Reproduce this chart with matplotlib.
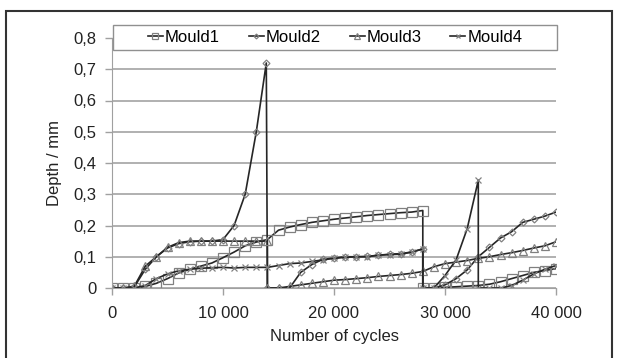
import matplotlib
matplotlib.use("Agg")
import matplotlib.pyplot as plt
from matplotlib.patches import Rectangle
from matplotlib.ticker import FuncFormatter

# Mould1 (squares)
m1_x = [0, 1000, 2000, 3000, 4000, 5000, 6000, 7000, 8000, 9000, 10000, 11000, 12000, 13000, 14000,
        15000, 16000, 17000, 18000, 19000, 20000, 21000, 22000, 23000, 24000, 25000, 26000, 27000, 28000,
        28000, 29000, 30000, 31000, 32000, 33000, 34000, 35000, 36000, 37000, 38000, 39000, 40000]
m1_y = [0, 0, 0, 0.005, 0.015, 0.03, 0.048, 0.06, 0.07, 0.08, 0.097, 0.115, 0.135, 0.147, 0.155,
        0.185, 0.195, 0.203, 0.21, 0.215, 0.22, 0.224, 0.228, 0.232, 0.235, 0.238, 0.241, 0.243, 0.248,
        0, 0, 0.002, 0.004, 0.006, 0.008, 0.012, 0.02, 0.03, 0.04, 0.05, 0.056, 0.062]

# Mould2 (diamonds)
m2_x = [0, 1000, 2000, 3000, 4000, 5000, 6000, 7000, 8000, 9000, 10000, 11000, 12000, 13000, 13900,
        14000, 15000, 16000, 17000, 18000, 19000, 20000, 21000, 22000, 23000, 24000, 25000, 26000, 27000, 28000,
        28000, 29000, 30000, 31000, 32000, 33000, 34000, 35000, 36000, 37000, 38000, 39000, 40000]
m2_y = [0, 0, 0.003, 0.06, 0.1, 0.128, 0.142, 0.148, 0.15, 0.15, 0.155, 0.2, 0.3, 0.5, 0.72,
        0, 0, 0, 0.05, 0.075, 0.092, 0.096, 0.1, 0.1, 0.101, 0.105, 0.108, 0.11, 0.115, 0.125,
        0, 0, 0.01, 0.03, 0.058, 0.1, 0.13, 0.16, 0.18, 0.21, 0.22, 0.23, 0.243]

# Mould3 (triangles)
m3_x = [0, 1000, 2000, 3000, 4000, 5000, 6000, 7000, 8000, 9000, 10000, 11000, 12000, 13000, 14000,
        14000, 15000, 16000, 17000, 18000, 19000, 20000, 21000, 22000, 23000, 24000, 25000, 26000, 27000, 28000,
        29000, 30000, 31000, 32000, 33000, 34000, 35000, 36000, 37000, 38000, 39000, 40000]
m3_y = [0, 0, 0.005, 0.07, 0.1, 0.13, 0.145, 0.15, 0.15, 0.15, 0.15, 0.15, 0.15, 0.15, 0.15,
        0, 0, 0.005, 0.01, 0.015, 0.02, 0.025, 0.027, 0.03, 0.033, 0.037, 0.04, 0.043, 0.047, 0.053,
        0.068, 0.078, 0.083, 0.088, 0.095, 0.1, 0.107, 0.113, 0.12, 0.128, 0.135, 0.148]

# Mould4 (crosses)
m4_x = [0, 1000, 2000, 3000, 4000, 5000, 6000, 7000, 8000, 9000, 10000, 11000, 12000, 13000, 14000,
        15000, 16000, 17000, 18000, 19000, 20000, 21000, 22000, 23000, 24000, 25000, 26000, 27000, 28000,
        28000, 29000, 30000, 31000, 32000, 33000,
        33000, 34000, 35000, 36000, 37000, 38000, 39000, 40000]
m4_y = [0, 0, 0, 0.008, 0.03, 0.045, 0.055, 0.06, 0.063, 0.065, 0.066, 0.064, 0.066, 0.066, 0.066,
        0.072, 0.078, 0.08, 0.085, 0.09, 0.095, 0.098, 0.1, 0.1, 0.105, 0.107, 0.108, 0.115, 0.125,
        0, 0, 0.04, 0.09, 0.19, 0.345,
        0, 0, 0, 0.008, 0.025, 0.045, 0.06, 0.072]

series = [
    ("Mould1", m1_x, m1_y, "s", 6.5),
    ("Mould2", m2_x, m2_y, "D", 3.5),
    ("Mould3", m3_x, m3_y, "^", 5.5),
    ("Mould4", m4_x, m4_y, "x", 5),
]

x_ticks = [0, 10000, 20000, 30000, 40000]
y_ticks = [0, 0.1, 0.2, 0.3, 0.4, 0.5, 0.6, 0.7, 0.8]

plt.rcParams['font.family'] = ['Liberation Sans', 'DejaVu Sans']
plt.rcParams['font.size'] = 12

fig = plt.figure(figsize=(6.18, 3.58), dpi=100)
ax = fig.add_axes([112 / 618, 70 / 358, 444 / 618, 250 / 358])

for name, xs, ys, mk, ms in series:
    ax.plot(xs, ys, color="#262626", lw=1.2, marker=mk, ms=ms,
            mfc="none", mec="#808080", mew=0.9, label=name)

ax.set_xlim(0, 40000)
ax.set_ylim(0, 0.8)
ax.set_xticks(x_ticks)
ax.set_yticks(y_ticks)
ax.xaxis.set_major_formatter(FuncFormatter(lambda v, p: f"{int(v):,}".replace(",", " ")))
ax.yaxis.set_major_formatter(FuncFormatter(lambda v, p: "0" if v == 0 else f"{v:.1f}".replace(".", ",")))
ax.yaxis.grid(True, color="#b0b0b0", lw=1.4)
ax.set_axisbelow(True)
for s in ["top", "right"]:
    ax.spines[s].set_visible(False)
ax.spines["left"].set_color("#a0a0a0")
ax.spines["bottom"].set_color("#a0a0a0")
ax.tick_params(colors="#a0a0a0", labelcolor="#222222", length=5, width=1, pad=6)
ax.tick_params(axis="x", pad=8)

ax.set_xlabel("Number of cycles", color="#222222", labelpad=6)
ax.set_ylabel("Depth / mm", color="#222222", labelpad=8)

# legend box spans the full plot width; entries centred inside it
box = Rectangle((113 / 618, (358 - 50) / 358), 444 / 618, 25 / 358,
                transform=fig.transFigure, facecolor="white",
                edgecolor="#909090", lw=1.0, zorder=4.5, clip_on=False)
ax.add_patch(box)
leg = ax.legend(loc="center", ncol=4, borderaxespad=0,
                bbox_to_anchor=(113 / 618, (358 - 50) / 358, 444 / 618, 25 / 358),
                bbox_transform=fig.transFigure, frameon=False,
                handlelength=0.9, handletextpad=0.1,
                columnspacing=1.75, borderpad=0.25, markerscale=0.7)
leg.set_zorder(5)

fig.patches.append(Rectangle((6 / 618, -0.05), 606 / 618, (358 - 11) / 358 + 0.05,
                             transform=fig.transFigure, fill=False,
                             edgecolor="#333333", lw=1.5))

fig.savefig("out.png", dpi=100)
